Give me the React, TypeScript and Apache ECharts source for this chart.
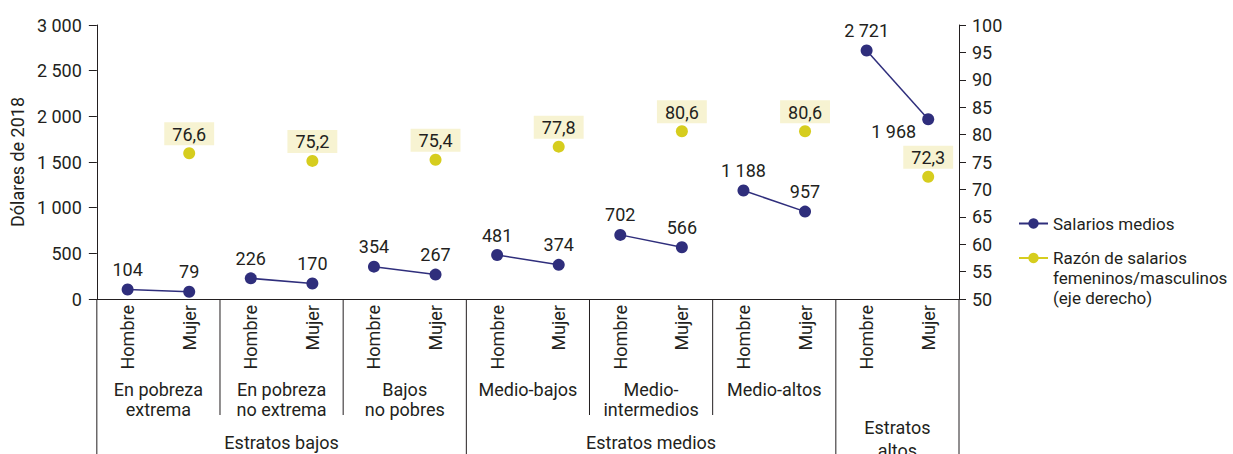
import React, { useEffect, useRef } from "react";
import * as echarts from "echarts";

const sexes = ["Hombre", "Mujer"];
const strata = [
  "En pobreza\nextrema",
  "En pobreza\nno extrema",
  "Bajos\nno pobres",
  "Medio-bajos",
  "Medio-\nintermedios",
  "Medio-altos",
  "",
];
const bigGroups = [
  { label: "Estratos bajos", from: 0, to: 2 },
  { label: "Estratos medios", from: 3, to: 5 },
  { label: "Estratos\naltos", from: 6, to: 6 },
];
const salaryMen = [104, 226, 354, 481, 702, 1188, 2721];
const salaryWomen = [79, 170, 267, 374, 566, 957, 1968];
const ratio = [76.6, 75.2, 75.4, 77.8, 80.6, 80.6, 72.3];

const SAL_NAME = "Salarios medios";
const RATIO_NAME = "Razón de salarios femeninos/masculinos (eje derecho)";

const NAVY = "#2F2E7C";
const YELLOW = "#D6CD1E";
const TEXT = "#231F20";
const FONT = "Roboto";
const FS = 18;
const LEGEND_FS = 17;

const fmtThousands = (v: number) =>
  String(Math.round(v)).replace(/\B(?=(\d{3})+(?!\d))/g, " ");

export default function App() {
  const ref = useRef<HTMLDivElement>(null);

  useEffect(() => {
    document.body.style.margin = "0";
    if (!ref.current) return;
    const chart = echarts.init(ref.current, null, { renderer: "svg" });

    const categories: string[] = [];
    strata.forEach(() => sexes.forEach((s) => categories.push(s)));
    const n = categories.length;

    const salarySeries = strata.map((_, i) => {
      const data: any[] = new Array(n).fill(null);
      data[2 * i] = salaryMen[i];
      data[2 * i + 1] =
        i === strata.length - 1
          ? {
              value: salaryWomen[i],
              label: { position: "left", distance: 6, offset: [0, 12] },
            }
          : salaryWomen[i];
      return {
        name: SAL_NAME,
        type: "line",
        yAxisIndex: 0,
        data,
        symbol: "circle",
        symbolSize: 12,
        showSymbol: true,
        connectNulls: false,
        itemStyle: { color: NAVY },
        lineStyle: { color: NAVY, width: 1.5 },
        label: {
          show: true,
          position: "top",
          distance: 5,
          color: TEXT,
          fontSize: FS,
          fontFamily: FONT,
          formatter: (p: any) => fmtThousands(p.value),
        },
        z: 3,
      };
    });

    const ratioData: any[] = new Array(n).fill(null);
    ratio.forEach((r, i) => {
      ratioData[2 * i + 1] = r;
    });

    const ratioSeries = {
      name: RATIO_NAME,
      type: "line",
      yAxisIndex: 1,
      data: ratioData,
      symbol: "circle",
      symbolSize: 12,
      showSymbol: true,
      connectNulls: false,
      itemStyle: { color: YELLOW },
      lineStyle: { color: YELLOW, width: 2 },
      label: {
        show: true,
        position: "top",
        distance: 2,
        color: TEXT,
        fontSize: FS,
        fontFamily: FONT,
        backgroundColor: "#F7F3D2",
        padding: [3, 8, 2, 8],
        formatter: (p: any) => Number(p.value).toFixed(1).replace(".", ","),
      },
      z: 2,
    };

    const option: any = {
      animation: false,
      textStyle: { fontFamily: FONT, color: TEXT },
      grid: { left: 96, right: 274, top: 25, bottom: 155, containLabel: false },
      legend: [
        {
          data: [SAL_NAME],
          orient: "vertical",
          left: 1018,
          top: 215,
          padding: 0,
          itemWidth: 29,
          itemHeight: 13,
          itemGap: 6,
          textStyle: { fontSize: LEGEND_FS, fontFamily: FONT, color: TEXT },
        },
        {
          data: [RATIO_NAME],
          orient: "vertical",
          left: 1018,
          top: 208,
          padding: 0,
          itemWidth: 29,
          itemHeight: 13,
          itemGap: 6,
          formatter: () =>
            "\n\nRazón de salarios\nfemeninos/masculinos\n(eje derecho)",
          textStyle: {
            fontSize: LEGEND_FS,
            fontFamily: FONT,
            color: TEXT,
            lineHeight: 20,
          },
        },
      ],
      xAxis: {
        type: "category",
        data: categories,
        boundaryGap: true,
        axisLine: { show: true, lineStyle: { color: TEXT, width: 1 } },
        axisTick: { show: false },
        axisLabel: {
          rotate: 90,
          margin: 6,
          interval: 0,
          color: TEXT,
          fontSize: FS,
          fontFamily: FONT,
        },
      },
      yAxis: [
        {
          type: "value",
          min: 0,
          max: 3000,
          interval: 500,
          position: "left",
          name: "Dólares de 2018",
          nameLocation: "middle",
          nameGap: 70,
          nameTextStyle: { fontSize: FS, fontFamily: FONT, color: TEXT },
          splitLine: { show: false },
          axisLine: { show: true, lineStyle: { color: TEXT, width: 1 } },
          axisTick: { show: true, length: 8, lineStyle: { color: TEXT } },
          axisLabel: {
            color: TEXT,
            fontSize: FS,
            fontFamily: FONT,
            margin: 15,
            formatter: (v: number) => fmtThousands(v),
          },
        },
        {
          type: "value",
          min: 50,
          max: 100,
          interval: 5,
          position: "right",
          splitLine: { show: false },
          axisLine: { show: true, lineStyle: { color: TEXT, width: 1 } },
          axisTick: { show: true, length: 7, lineStyle: { color: TEXT } },
          axisLabel: {
            color: TEXT,
            fontSize: FS,
            fontFamily: FONT,
            margin: 13,
          },
        },
      ],
      series: [...salarySeries, ratioSeries],
    };

    chart.setOption(option);

    // Hierarchical category labels and separators, positioned from the axis scale
    const px = (i: number) =>
      chart.convertToPixel({ xAxisIndex: 0 }, i) as unknown as number;
    const py0 = chart.convertToPixel({ yAxisIndex: 0 }, 0) as unknown as number;
    const half = (px(1) - px(0)) / 2;
    const leftEdge = px(0) - half;
    const rightEdge = px(n - 1) + half;
    const bottom = 454;
    const shortBottom = py0 + 116;
    const stratumTop = py0 + 80;

    const graphics: any[] = [];
    const vline = (x: number, y2: number) => ({
      type: "line",
      shape: { x1: x, y1: py0, x2: x, y2 },
      style: { stroke: TEXT, lineWidth: 1 },
      silent: true,
    });
    graphics.push(vline(leftEdge, bottom));
    graphics.push(vline(rightEdge, bottom));

    const bigEnds = new Set(bigGroups.map((g) => g.to));
    strata.forEach((label, k) => {
      if (k < strata.length - 1) {
        const bx = (px(2 * k + 1) + px(2 * k + 2)) / 2;
        graphics.push(vline(bx, bigEnds.has(k) ? bottom : shortBottom));
      }
      if (label) {
        graphics.push({
          type: "text",
          x: (px(2 * k) + px(2 * k + 1)) / 2,
          y: stratumTop,
          silent: true,
          style: {
            text: label,
            align: "center",
            verticalAlign: "top",
            fontSize: FS,
            fontFamily: FONT,
            lineHeight: 20,
            fill: TEXT,
          },
        });
      }
    });

    bigGroups.forEach((g) => {
      const x1 = px(2 * g.from) - half;
      const x2 = px(2 * g.to + 1) + half;
      const multi = g.label.includes("\n");
      graphics.push({
        type: "text",
        x: (x1 + x2) / 2,
        y: multi ? py0 + 117 : py0 + 132,
        silent: true,
        style: {
          text: g.label,
          align: "center",
          verticalAlign: "top",
          fontSize: FS,
          fontFamily: FONT,
          lineHeight: 23,
          fill: TEXT,
        },
      });
    });

    chart.setOption({ graphic: graphics });

    return () => chart.dispose();
  }, []);

  return <div ref={ref} style={{ width: 1233, height: 454 }} />;
}
